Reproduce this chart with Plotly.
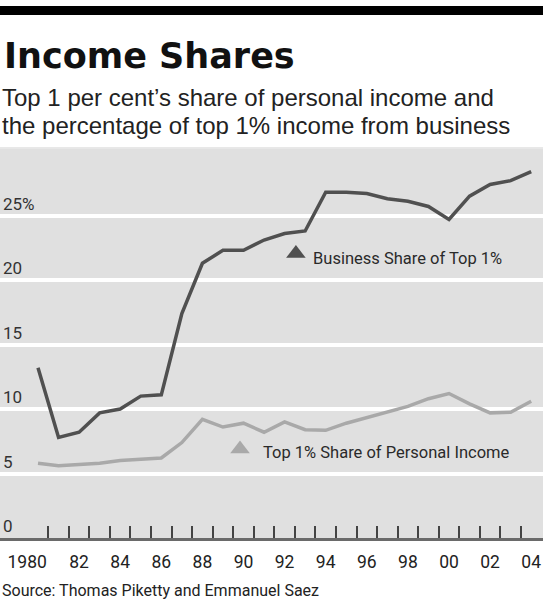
import plotly.graph_objects as go

years = list(range(1980, 2005))
business_share = [13.2, 7.8, 8.2, 9.7, 10.0, 11.0, 11.1, 17.4, 21.3, 22.3, 22.3, 23.1, 23.6, 23.8,
                  26.8, 26.8, 26.7, 26.3, 26.1, 25.7, 24.7, 26.5, 27.4, 27.7, 28.4]
personal_share = [5.8, 5.6, 5.7, 5.8, 6.0, 6.1, 6.2, 7.4, 9.2, 8.6, 8.9, 8.2, 9.0, 8.4,
                  8.35, 8.9, 9.35, 9.75, 10.2, 10.8, 11.2, 10.4, 9.7, 9.75, 10.6]

y_tick_vals = [0, 5, 10, 15, 20, 25]
y_tick_text = ["0", "5", "10", "15", "20", "25%"]
x_label_years = list(range(1980, 2005, 2))
x_label_text = ["1980", "82", "84", "86", "88", "90", "92", "94", "96", "98", "00", "02", "04"]
x_tick_marks = [y + 0.5 for y in range(1980, 2004)]

title = "Income Shares"
subtitle_1 = "Top 1 per cent\u2019s share of personal income and"
subtitle_2 = "the percentage of top 1% income from business"
source = "Source: Thomas Piketty and Emmanuel Saez"
business_label = "Business Share of Top 1%"
personal_label = "Top 1% Share of Personal Income"

DARK = "#505050"
LIGHT = "#a9a9a9"
NARROW = "Roboto, Liberation Sans, sans-serif"

# pixel geometry helpers
PLOT_TOP, PLOT_BOTTOM = 149, 538
PH = PLOT_BOTTOM - PLOT_TOP
PX_PER_YEAR = 20.55


def py(pix):
    return (PLOT_BOTTOM - pix) / PH


# first label sits flush left in the original: pad it on the right with no-break spaces
x_tick_labels = [x_label_text[0] + "\u00a0" * 5] + x_label_text[1:]

fig = go.Figure()
fig.add_trace(go.Scatter(x=years, y=personal_share, mode="lines",
                         line=dict(color=LIGHT, width=3.5), hoverinfo="skip"))
fig.add_trace(go.Scatter(x=years, y=business_share, mode="lines",
                         line=dict(color=DARK, width=3.5), hoverinfo="skip"))

# legend-like labels with triangles
fig.add_trace(go.Scatter(x=[1992.55], y=[22.05], mode="markers",
                         marker=dict(symbol="triangle-up", size=17, color=DARK), hoverinfo="skip"))
fig.add_trace(go.Scatter(x=[1989.83], y=[6.9], mode="markers",
                         marker=dict(symbol="triangle-up", size=17, color=LIGHT), hoverinfo="skip"))
fig.add_annotation(x=1993.3, y=21.7, xref="x", yref="y", text=business_label, showarrow=False,
                   xanchor="left", yanchor="middle", font=dict(family=NARROW, size=16.5, color="#2a2a2a"))
fig.add_annotation(x=1990.85, y=6.6, xref="x", yref="y", text=personal_label, showarrow=False,
                   xanchor="left", yanchor="middle", font=dict(family=NARROW, size=16.5, color="#2a2a2a"))

# titles
fig.add_annotation(x=0.0, y=py(78), xref="paper", yref="paper", text="<b>" + title + "</b>",
                   showarrow=False, xanchor="left", yanchor="bottom", xshift=2,
                   font=dict(family="DejaVu Sans, sans-serif", size=35, color="#111"))
fig.add_annotation(x=0.0, y=py(97), xref="paper", yref="paper", text=subtitle_1,
                   showarrow=False, xanchor="left", yanchor="middle", xshift=0,
                   font=dict(family="Liberation Sans, Arial, sans-serif", size=24, color="#222"))
fig.add_annotation(x=0.0, y=py(125), xref="paper", yref="paper", text=subtitle_2,
                   showarrow=False, xanchor="left", yanchor="middle", xshift=0,
                   font=dict(family="Liberation Sans, Arial, sans-serif", size=24, color="#222"))
fig.add_annotation(x=0.0, y=py(590), xref="paper", yref="paper", text=source,
                   showarrow=False, xanchor="left", yanchor="middle", xshift=0,
                   font=dict(family=NARROW, size=16, color="#222"))

# black rule at top, thin separator
fig.add_shape(type="rect", xref="paper", yref="paper", x0=0, x1=1, y0=py(15), y1=py(6),
              fillcolor="#000", line=dict(width=0))
fig.add_shape(type="line", xref="paper", yref="paper", x0=0, x1=1, y0=py(148), y1=py(148),
              line=dict(color="#d0d0d0", width=1))

fig.update_layout(
    width=543, height=605,
    margin=dict(l=0, r=0, t=PLOT_TOP, b=605 - PLOT_BOTTOM, pad=0),
    paper_bgcolor="white", plot_bgcolor="#e0e0e0",
    showlegend=False,
    xaxis=dict(range=[1980 - 38 / PX_PER_YEAR, 1980 + 505 / PX_PER_YEAR], showgrid=False, zeroline=False,
               tickmode="array", tickvals=x_label_years, ticktext=x_tick_labels,
               ticks="", showline=True, linecolor="#6a6a6a", linewidth=2.5,
               ticklabeloverflow="allow", tickangle=0, automargin=False,
               tickfont=dict(family=NARROW, size=17.5, color="#222"), ticklabelstandoff=6,
               minor=dict(tickmode="array", tickvals=x_tick_marks, ticks="inside", ticklen=12,
                          tickwidth=2, tickcolor="#444", showgrid=False)),
    yaxis=dict(range=[0, PH / 12.9], tickmode="array", tickvals=y_tick_vals, ticktext=y_tick_text,
               showgrid=True, gridcolor="white", gridwidth=3.5, zeroline=False, ticks="",
               ticklabelposition="inside top", automargin=False,
               tickfont=dict(family=NARROW, size=17, color="#333")),
)

fig.write_html("out.html")
